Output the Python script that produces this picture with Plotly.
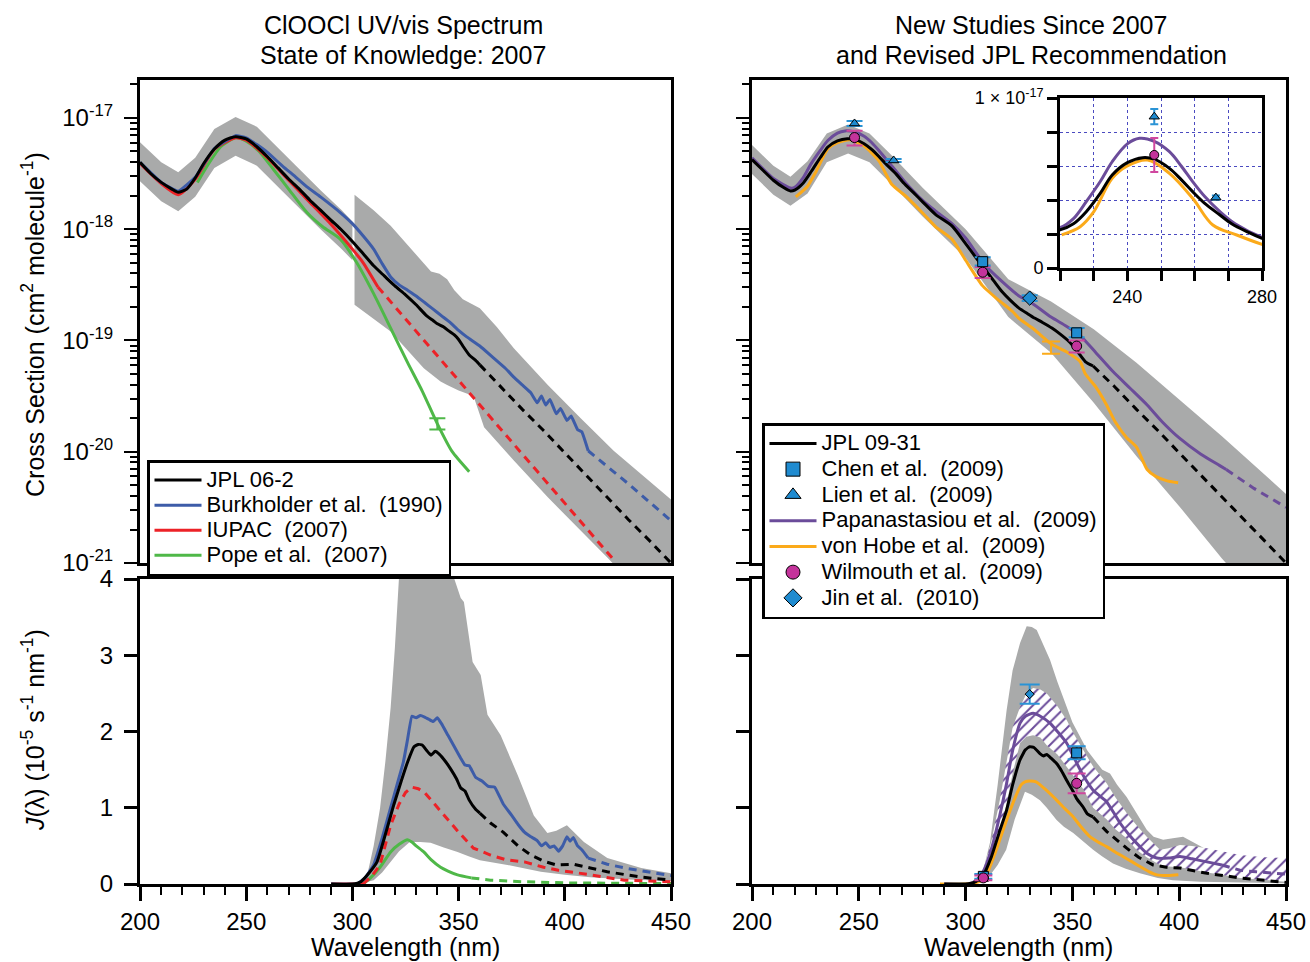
import plotly.graph_objects as go

W, H = 1310, 962
FONT = "Liberation Sans, Arial, Helvetica, sans-serif"

# ---------------- colours ----------------
GRAY = "#a9aaaa"
BLACK = "#000000"
BLUE = "#3d5ca8"
RED = "#ec2227"
GREEN = "#4fb848"
PURPLE = "#6b4c9a"
ORANGE = "#fbaa1a"
MBLUE = "#1f8bd0"
EBLUE = "#2a93d5"
MAG = "#c4339b"
EMAG = "#d0479f"
GRID = "#4a4ac0"

# ================= DATA =================
# ---- Top-left: cross sections (cm2 molecule-1), 2007 knowledge ----
jpl06_wl = [200, 205, 210, 215, 218, 222, 226, 230, 235, 240, 245, 250, 255, 260, 265, 270, 275, 280, 285, 290,
            295, 300, 305, 310, 315, 320, 325, 330, 335, 338, 340, 343, 345, 348, 350, 352, 355, 358, 360]
jpl06_xs = [3.98e-18, 3.16e-18, 2.63e-18, 2.29e-18, 2.14e-18, 2.29e-18, 2.88e-18, 3.89e-18, 5.25e-18, 6.31e-18,
            6.76e-18, 6.46e-18, 5.50e-18, 4.47e-18, 3.55e-18, 2.82e-18, 2.29e-18, 1.82e-18, 1.48e-18, 1.20e-18,
            9.77e-19, 7.76e-19, 6.03e-19, 4.68e-19, 3.80e-19, 3.09e-19, 2.57e-19, 2.09e-19, 1.66e-19, 1.51e-19,
            1.41e-19, 1.32e-19, 1.23e-19, 1.12e-19, 1.02e-19, 8.91e-20, 7.41e-20, 6.61e-20, 6.03e-20]
jpl_ext_wl = [360, 370, 380, 390, 400, 410, 420, 430, 440, 450]
jpl06_ext_xs = [6.03e-20, 3.80e-20, 2.40e-20, 1.55e-20, 9.77e-21, 6.17e-21, 3.89e-21, 2.45e-21, 1.58e-21, 1.0e-21]

burk_wl = [200, 210, 218, 226, 235, 245, 250, 255, 260, 267.5, 272, 278.6, 285, 294.3, 300, 305, 310, 314, 318, 322,
           326, 330, 334, 338, 342, 346, 350, 354, 360, 366, 372, 376, 380, 384, 387, 389, 391, 393, 396, 398, 401,
           403, 406, 408, 411]
burk_xs = [3.98e-18, 2.63e-18, 2.19e-18, 2.92e-18, 5.30e-18, 6.92e-18, 6.61e-18, 5.75e-18, 4.90e-18, 3.63e-18,
           3.09e-18, 2.40e-18, 1.95e-18, 1.41e-18, 1.12e-18, 8.71e-19, 6.61e-19, 4.90e-19, 3.72e-19, 3.16e-19,
           2.82e-19, 2.51e-19, 2.19e-19, 1.91e-19, 1.66e-19, 1.45e-19, 1.23e-19, 1.07e-19, 8.91e-20, 7.08e-20,
           5.62e-20, 4.68e-20, 3.98e-20, 3.39e-20, 2.75e-20, 3.16e-20, 2.63e-20, 2.95e-20, 2.19e-20, 2.45e-20,
           1.91e-20, 2.09e-20, 1.58e-20, 1.51e-20, 1.02e-20]
burk_ext_wl = [411, 430, 450]
burk_ext_xs = [1.02e-20, 5.13e-21, 2.40e-21]

iupac_wl = [200, 210, 218, 226, 235, 245, 250, 260, 270, 280, 290, 300, 305, 312]
iupac_xs = [3.90e-18, 2.57e-18, 2.04e-18, 2.80e-18, 5.20e-18, 6.61e-18, 6.31e-18, 4.37e-18, 2.75e-18, 1.74e-18,
            1.10e-18, 6.61e-19, 5.01e-19, 3.02e-19]
iupac_ext_wl = [312, 340, 370, 400, 423]
iupac_ext_xs = [3.02e-19, 7.24e-20, 1.58e-20, 3.39e-21, 1.07e-21]

pope_wl = [227, 232, 238, 245, 250, 256, 262.7, 270, 278.6, 286, 294.3, 302, 310, 318, 326, 333, 340, 347, 355]
pope_xs = [2.63e-18, 3.80e-18, 5.50e-18, 6.61e-18, 6.17e-18, 5.01e-18, 3.47e-18, 2.29e-18, 1.41e-18, 1.05e-18,
           8.13e-19, 5.01e-19, 2.63e-19, 1.29e-19, 6.31e-20, 3.47e-20, 1.78e-20, 1.0e-20, 6.61e-21]
pope_err_wl = [340]
pope_err_xs = [1.78e-20]
pope_err_plus = [0.22e-20]
pope_err_minus = [0.20e-20]

# uncertainty band 2007 (two pieces)
band07a_wl = [200, 210, 218, 226, 235, 245, 255, 265, 275, 285, 295, 300]
band07a_up = [6.03e-18, 3.98e-18, 3.24e-18, 4.37e-18, 7.94e-18, 1.02e-17, 8.32e-18, 5.37e-18, 3.47e-18, 2.24e-18,
              1.48e-18, 1.17e-18]
band07a_lo = [2.69e-18, 1.78e-18, 1.45e-18, 1.95e-18, 3.55e-18, 4.57e-18, 3.72e-18, 2.40e-18, 1.55e-18, 1.0e-18,
              6.61e-19, 5.25e-19]
band07b_up_wl = [301, 310, 318, 328, 337, 341, 344.6, 348, 352, 360, 368, 376, 392, 407.5, 423, 450]
band07b_up = [2.04e-18, 1.48e-18, 1.07e-18, 6.46e-19, 4.17e-19, 3.98e-19, 3.55e-19, 2.82e-19, 2.34e-19, 1.95e-19,
              1.32e-19, 8.51e-20, 3.98e-20, 2.0e-20, 1.02e-20, 3.72e-21]
band07b_lo_wl = [301, 318, 333.6, 341.5, 344.6, 350, 357, 362, 376, 392, 407.5, 420, 450]
band07b_lo = [2.09e-19, 1.20e-19, 5.62e-20, 4.27e-20, 3.98e-20, 3.55e-20, 3.16e-20, 1.66e-20, 8.32e-21, 3.89e-21,
              1.95e-21, 1.12e-21, 2.82e-22]

# ---- Bottom-left: J (1e-5 s-1 nm-1) ----
jpl06_j_wl = [290, 300, 304, 308, 311.6, 315, 319.5, 323, 326, 329, 331, 333, 335, 337, 339, 341, 344, 346, 349, 351,
              353, 355, 358, 360]
jpl06_j = [0, 0, 0.03, 0.15, 0.29, 0.6, 1.04, 1.35, 1.6, 1.8, 1.83, 1.82, 1.75, 1.69, 1.74, 1.70, 1.60, 1.52, 1.38,
           1.26, 1.22, 1.10, 0.98, 0.93]
jpl06_j_ext_wl = [360, 365, 371, 378, 384, 390, 396, 404, 412, 420, 436, 450]
jpl06_j_ext = [0.93, 0.80, 0.68, 0.50, 0.38, 0.30, 0.25, 0.26, 0.21, 0.16, 0.09, 0.05]

burk_j_wl = [290, 302, 306, 310, 314, 318, 321, 324, 326, 328, 330, 332, 334, 336, 338, 340, 342, 345, 348, 351, 353,
             355, 358, 361, 364, 367, 371, 375, 378, 381, 384, 387, 389, 391, 393, 395, 397, 399, 401, 402.5, 404, 406,
             408, 411]
burk_j = [0, 0, 0.08, 0.25, 0.6, 1.0, 1.3, 1.6, 1.9, 2.2, 2.18, 2.21, 2.19, 2.16, 2.13, 2.18, 2.10, 1.95, 1.80, 1.65,
          1.56, 1.55, 1.40, 1.35, 1.28, 1.27, 1.05, 0.90, 0.78, 0.68, 0.62, 0.57, 0.50, 0.54, 0.48, 0.50, 0.43, 0.50,
          0.62, 0.56, 0.61, 0.50, 0.45, 0.34]
burk_j_ext_wl = [411, 420, 430, 440, 450]
burk_j_ext = [0.34, 0.26, 0.20, 0.15, 0.11]

iupac_j_wl = [290, 305]
iupac_j = [0, 0]
iupac_j_ext_wl = [305, 309, 313, 318, 322, 325, 328, 331, 334, 337, 340, 345, 350, 357, 365, 372, 381, 390, 397, 405,
                  412, 420, 428, 440, 450]
iupac_j_ext = [0.0, 0.1, 0.25, 0.77, 1.05, 1.2, 1.27, 1.25, 1.20, 1.10, 1.0, 0.84, 0.68, 0.47, 0.38, 0.32, 0.29, 0.22,
               0.18, 0.15, 0.12, 0.09, 0.05, 0.04, 0.03]

pope_j_wl = [305, 308.5, 313, 318, 322, 326, 328, 330, 333.6, 337, 341.5, 345, 349.5, 356]
pope_j = [0, 0.08, 0.22, 0.42, 0.52, 0.58, 0.55, 0.50, 0.42, 0.32, 0.22, 0.17, 0.12, 0.08]
pope_j_ext_wl = [356, 365, 380, 400, 425, 450]
pope_j_ext = [0.08, 0.05, 0.03, 0.015, 0.01, 0.005]

band07_j_up_wl = [303, 305, 307, 310, 313, 315.5, 318, 320, 322, 325, 330, 340, 345, 348, 351, 352.5, 356.6, 360.4,
                  363.6, 369.8, 377.8, 385.4, 391.8, 396, 401, 409, 420, 436, 450]
band07_j_up = [0, 0.02, 0.12, 0.5, 0.99, 1.6, 2.31, 3.1, 4.05, 4.8, 5.5, 5.2, 4.4, 4.0, 3.75, 3.70, 2.91, 2.74, 2.22,
               1.95, 1.43, 0.90, 0.67, 0.70, 0.77, 0.55, 0.34, 0.21, 0.14]
band07_j_lo_wl = [303, 310, 314, 318, 322, 327, 332, 336.8, 343, 349.5, 355, 360, 373, 388.7, 400, 412, 430, 450]
band07_j_lo = [0, 0.05, 0.15, 0.29, 0.43, 0.55, 0.55, 0.54, 0.48, 0.42, 0.36, 0.31, 0.25, 0.16, 0.12, 0.09, 0.06,
               0.04]

# ---- Top-right: new studies ----
jpl09_wl = [200, 205, 210, 215, 218, 220, 224, 227.8, 232, 235.5, 240, 244.6, 248, 252.5, 256, 259.4, 263, 267.5, 271,
            275.5, 280, 286, 293.6, 300, 305, 309, 313, 317, 321, 325, 329, 332.5, 336, 340.4, 344, 348.4, 352, 356,
            359.7]
jpl09_xs = [4.22e-18, 3.4e-18, 2.75e-18, 2.35e-18, 2.2e-18, 2.24e-18, 2.6e-18, 3.31e-18, 4.4e-18, 5.47e-18, 6.2e-18,
            6.49e-18, 6.4e-18, 5.86e-18, 5.2e-18, 4.49e-18, 3.8e-18, 3.12e-18, 2.6e-18, 2.14e-18, 1.75e-18, 1.35e-18,
            1.07e-18, 7.41e-19, 5.50e-19, 4.37e-19, 3.47e-19, 2.75e-19, 2.29e-19, 1.95e-19, 1.74e-19, 1.58e-19,
            1.45e-19, 1.29e-19, 1.15e-19, 9.77e-20, 8.13e-20, 6.46e-20, 5.89e-20]
jpl09_ext_wl = [359.7, 370, 380, 390, 400, 410, 420, 430, 440, 450]
jpl09_ext_xs = [5.89e-20, 3.80e-20, 2.40e-20, 1.55e-20, 9.77e-21, 6.17e-21, 3.89e-21, 2.45e-21, 1.58e-21, 1.0e-21]

pap_wl = [200, 210, 218, 220, 224, 227.8, 232, 235.5, 240, 243.6, 248, 252.5, 256, 259.4, 263, 267.5, 272, 280, 286,
          293.6, 300, 309, 317, 325, 330, 340, 347, 353.5, 361, 369, 377, 385, 392, 400, 410, 419, 422]
pap_xs = [4.37e-18, 2.85e-18, 2.34e-18, 2.37e-18, 2.9e-18, 3.9e-18, 5.1e-18, 6.25e-18, 7.3e-18, 7.63e-18, 7.45e-18,
          6.84e-18, 6.0e-18, 5.08e-18, 4.2e-18, 3.31e-18, 2.6e-18, 1.8e-18, 1.45e-18, 1.12e-18, 8.32e-19, 4.79e-19,
          3.39e-19, 2.51e-19, 2.24e-19, 1.62e-19, 1.35e-19, 1.11e-19, 7.76e-20, 5.25e-20, 3.72e-20, 2.63e-20,
          1.86e-20, 1.33e-20, 9.55e-21, 7.50e-21, 6.92e-21]
pap_ext_wl = [422, 435, 450]
pap_ext_xs = [6.92e-21, 4.68e-21, 3.16e-21]

vh_wl = [220.5, 226, 230, 235.5, 240, 246, 252.5, 259.4, 265.4, 272.5, 280, 286, 293.6, 300, 308, 315, 322, 325, 332,
         340, 347, 353.6, 356, 361, 366, 370, 375.5, 380, 385, 389, 394, 399.5]
vh_xs = [1.95e-18, 2.43e-18, 3.3e-18, 5.27e-18, 6.0e-18, 6.35e-18, 5.57e-18, 4.10e-18, 2.53e-18, 1.94e-18, 1.39e-18,
         1.05e-18, 8.13e-19, 5.25e-19, 3.09e-19, 2.34e-19, 1.82e-19, 1.58e-19, 1.26e-19, 9.33e-20, 7.94e-20, 6.46e-20,
         5.01e-20, 3.80e-20, 2.63e-20, 1.86e-20, 1.33e-20, 1.10e-20, 6.92e-21, 6.0e-21, 5.50e-21, 5.25e-21]
vh_err_wl = [340]
vh_err_xs = [8.7e-20]
vh_err = [1.1e-20]

chen_wl = [308, 352]
chen_xs = [5.1e-19, 1.17e-19]
chen_err_plus = [0.5e-19, 0.12e-19]
chen_err_minus = [0.4e-19, 0.10e-19]
lien_wl = [248, 266.3]
lien_xs = [8.9e-18, 4.14e-18]
lien_err = [0.45e-18, 0.12e-18]
wilm_wl = [248, 308, 352]
wilm_xs = [6.65e-18, 4.1e-19, 8.9e-20]
wilm_err = [1.0e-18, 0.47e-19, 1.1e-20]
jin_wl = [330]
jin_xs = [2.4e-19]
jin_err = [0.14e-19]

band09_wl = [200, 210, 218, 226, 235, 245, 255, 265, 280, 300, 320, 340, 360, 380, 400, 420, 450]
band09_up = [5.69e-18, 3.72e-18, 2.95e-18, 4.07e-18, 7.24e-18, 8.71e-18, 7.24e-18, 4.68e-18, 2.34e-18, 1.0e-18,
             3.55e-19, 2.24e-19, 1.26e-19, 6.31e-20, 2.95e-20, 1.38e-20, 4.17e-21]
band09_lo = [3.13e-18, 2.04e-18, 1.62e-18, 2.09e-18, 3.98e-18, 4.79e-18, 3.98e-18, 2.57e-18, 1.29e-18, 5.50e-19,
             1.62e-19, 7.76e-20, 2.75e-20, 9.12e-21, 3.24e-21, 1.10e-21, 2.40e-22]

# ---- Bottom-right: J (1e-5 s-1 nm-1) ----
jpl09_j_wl = [290, 300, 304, 308, 312, 316, 319.2, 322, 325.5, 328, 330, 332, 334.8, 336.5, 338, 340, 342.6, 345,
              347.3, 350.4, 352, 355, 357, 359.7]
jpl09_j = [0, 0, 0.02, 0.1, 0.35, 0.7, 0.97, 1.3, 1.63, 1.76, 1.80, 1.79, 1.71, 1.68, 1.70, 1.65, 1.58, 1.48, 1.36,
           1.21, 1.12, 1.01, 0.92, 0.88]
jpl09_j_ext_wl = [359.7, 366, 375.4, 381, 387.8, 394, 400.4, 413, 428.5, 440, 450]
jpl09_j_ext = [0.88, 0.69, 0.47, 0.35, 0.25, 0.22, 0.21, 0.14, 0.08, 0.05, 0.02]

pap_j_wl = [290, 302, 305, 308, 312, 316, 319.2, 322, 325.5, 328, 331.6, 335, 339.5, 343, 347.3, 350, 353.6, 356,
            359.7, 363, 366, 369, 372.3, 377, 381.6, 385, 389.5, 395, 400.4, 406, 413, 420]
pap_j = [0, 0, 0.05, 0.15, 0.45, 0.9, 1.32, 1.75, 2.11, 2.2, 2.24, 2.2, 2.11, 2.0, 1.85, 1.7, 1.5, 1.38, 1.23, 1.15,
         1.08, 0.95, 0.80, 0.63, 0.49, 0.40, 0.34, 0.34, 0.36, 0.33, 0.29, 0.25]
pap_j_ext_wl = [420, 428.5, 436, 444, 450]
pap_j_ext = [0.25, 0.18, 0.16, 0.14, 0.13]

vh_j_wl = [288, 300, 305, 308, 311, 315, 319.2, 323, 326, 327.8, 330, 333, 337, 342.6, 346, 350.4, 354, 358.2, 362,
           366, 370, 373.7, 378, 381.6, 386, 389.5, 395, 399.6]
vh_j = [0, 0, 0.02, 0.05, 0.2, 0.5, 0.84, 1.12, 1.30, 1.34, 1.35, 1.34, 1.25, 1.10, 1.0, 0.88, 0.75, 0.62, 0.55,
        0.49, 0.42, 0.36, 0.29, 0.23, 0.16, 0.12, 0.11, 0.12]

chen_j_wl = [308.3, 352]
chen_j = [0.10, 1.72]
chen_j_err = [0.03, 0.085]
wilm_j_wl = [308.3, 352]
wilm_j = [0.08, 1.32]
wilm_j_err = [0.03, 0.13]
jin_j_wl = [330]
jin_j = [2.49]
jin_j_err = [0.125]

band09_j_up_wl = [300, 305, 308, 311.4, 315, 319.2, 322, 325.5, 328.6, 331, 333.3, 336, 339.5, 343, 347.3, 350, 353.6,
                  357, 361.4, 364, 367.6, 371, 375.4, 380, 384.8, 388, 392.5, 397, 401.8, 407, 413, 420, 428.5, 440,
                  450]
band09_j_up = [0, 0.05, 0.15, 0.54, 1.3, 2.28, 2.8, 3.16, 3.38, 3.37, 3.33, 3.15, 2.94, 2.65, 2.32, 2.12, 1.93, 1.75,
               1.59, 1.50, 1.45, 1.30, 1.14, 0.93, 0.71, 0.62, 0.58, 0.60, 0.62, 0.54, 0.45, 0.36, 0.27, 0.18, 0.12]
band09_j_lo_wl = [300, 308, 311, 315, 319, 323, 327.8, 331, 334.8, 338, 342.6, 346, 350.4, 355, 359.7, 364, 369, 375,
                  381.6, 390, 397, 410, 430, 450]
band09_j_lo = [0, 0.04, 0.1, 0.25, 0.45, 0.85, 1.21, 1.17, 1.10, 1.0, 0.84, 0.75, 0.67, 0.56, 0.45, 0.36, 0.27, 0.2,
               0.14, 0.08, 0.05, 0.03, 0.02, 0.01]

hatch_wl = [308, 312, 316, 319.2, 322, 325.5, 328.5, 331.6, 335, 338, 343, 347.3, 351, 355, 359.7, 366, 370, 375.4,
            380, 384.8, 391, 395, 400.4, 406, 413, 420, 428.5, 440, 450]
hatch_up = [0.15, 0.55, 1.1, 1.6, 2.05, 2.32, 2.5, 2.57, 2.55, 2.5, 2.33, 2.15, 1.95, 1.76, 1.54, 1.32, 1.14, 0.93,
            0.77, 0.62, 0.45, 0.47, 0.51, 0.50, 0.47, 0.43, 0.38, 0.35, 0.34]
hatch_lo = [0.1, 0.35, 0.7, 1.05, 1.45, 1.85, 1.93, 1.95, 1.92, 1.82, 1.7, 1.55, 1.4, 1.25, 1.0, 0.85, 0.72, 0.6,
            0.45, 0.35, 0.25, 0.23, 0.22, 0.19, 0.15, 0.12, 0.08, 0.05, 0.03]

# axis ticks
log_major = [1e-21, 1e-20, 1e-19, 1e-18, 1e-17]
log_major_text = ["10<sup>-21</sup>", "10<sup>-20</sup>", "10<sup>-19</sup>", "10<sup>-18</sup>", "10<sup>-17</sup>"]
log_minor = [k * 10.0 ** e for e in range(-21, -16) for k in range(2, 10)]
inset_x_major = [240, 280]
inset_x_major_text = ["240", "280"]
inset_x_minor = [220, 230, 250, 260, 270]
inset_y_major = [0, 1e-17]
inset_y_major_text = ["0", "1 \u00d7 10<sup>-17</sup>"]
inset_y_minor = [2e-18, 4e-18, 6e-18, 8e-18]

# legend labels
leg1_names = ["JPL 06-2", "Burkholder et al.\u00a0 (1990)", "IUPAC\u00a0 (2007)", "Pope et al.\u00a0 (2007)"]
leg2_names = ["JPL 09-31", "Chen et al.\u00a0 (2009)", "Lien et al.\u00a0 (2009)", "Papanastasiou et al.\u00a0 (2009)",
              "von Hobe et al.\u00a0 (2009)", "Wilmouth et al.\u00a0 (2009)", "Jin et al.\u00a0 (2010)"]


def big(t):
    return '<span style="font-size:22px">' + t + '</span>'


# ================= FIGURE =================
fig = go.Figure()


def band(wl_up, up, wl_lo, lo, xa, ya, color=GRAY, pattern=None):
    kw = dict(fillcolor=color)
    if pattern is not None:
        kw = dict(fillcolor="white", fillpattern=pattern)
    fig.add_trace(go.Scatter(x=list(wl_up) + list(wl_lo)[::-1], y=list(up) + list(lo)[::-1], xaxis=xa, yaxis=ya,
                             mode="lines", fill="toself", line=dict(width=0, color=color), hoverinfo="skip",
                             showlegend=False, **kw))


def line(x, y, xa, ya, color, dash=None, name=None, legend=None, rank=None, width=3, smooth=0.6):
    ld = dict(color=color, width=width)
    if dash:
        ld["dash"] = dash
    elif smooth:
        ld["shape"] = "spline"
        ld["smoothing"] = smooth
    if name:
        kw = dict(name=big(name), showlegend=True, legend=legend, legendrank=rank)
    else:
        kw = dict(showlegend=False)
    fig.add_trace(go.Scatter(x=x, y=y, xaxis=xa, yaxis=ya, mode="lines", line=ld, hoverinfo="skip", **kw))


def points(x, y, xa, ya, symbol, fill, ecolor, ep, em=None, size=10, cap=7):
    fig.add_trace(go.Scatter(
        x=x, y=y, xaxis=xa, yaxis=ya, mode="markers", showlegend=False, hoverinfo="skip",
        marker=dict(symbol=symbol, size=size, color=fill, line=dict(color="black", width=1)),
        error_y=dict(type="data", symmetric=em is None, array=ep, arrayminus=em, color=ecolor, thickness=2,
                     width=cap)))


DASH = "8px,6px"

# ---- top-left ----
band(band07a_wl, band07a_up, band07a_wl, band07a_lo, "x", "y")
band(band07b_up_wl, band07b_up, band07b_lo_wl, band07b_lo, "x", "y")
line(pope_wl, pope_xs, "x", "y", GREEN, name=leg1_names[3], legend="legend", rank=4)
line(iupac_wl, iupac_xs, "x", "y", RED, name=leg1_names[2], legend="legend", rank=3)
line(iupac_ext_wl, iupac_ext_xs, "x", "y", RED, dash=DASH)
line(burk_wl, burk_xs, "x", "y", BLUE, name=leg1_names[1], legend="legend", rank=2, smooth=0.3)
line(burk_ext_wl, burk_ext_xs, "x", "y", BLUE, dash=DASH)
line(jpl06_wl, jpl06_xs, "x", "y", BLACK, name=leg1_names[0], legend="legend", rank=1)
line(jpl_ext_wl, jpl06_ext_xs, "x", "y", BLACK, dash=DASH)
fig.add_trace(go.Scatter(x=pope_err_wl, y=pope_err_xs, xaxis="x", yaxis="y", mode="markers", showlegend=False,
                         marker=dict(size=1, color=GREEN), hoverinfo="skip",
                         error_y=dict(type="data", symmetric=False, array=pope_err_plus, arrayminus=pope_err_minus,
                                      color=GREEN, thickness=2, width=8)))

# ---- bottom-left ----
band(band07_j_up_wl, band07_j_up, band07_j_lo_wl, band07_j_lo, "x2", "y2")
line(pope_j_wl, pope_j, "x2", "y2", GREEN)
line(pope_j_ext_wl, pope_j_ext, "x2", "y2", GREEN, dash=DASH)
line(iupac_j_wl, iupac_j, "x2", "y2", RED)
line(iupac_j_ext_wl, iupac_j_ext, "x2", "y2", RED, dash=DASH)
line(burk_j_wl, burk_j, "x2", "y2", BLUE, smooth=0.3)
line(burk_j_ext_wl, burk_j_ext, "x2", "y2", BLUE, dash=DASH)
line(jpl06_j_wl, jpl06_j, "x2", "y2", BLACK, smooth=0.4)
line(jpl06_j_ext_wl, jpl06_j_ext, "x2", "y2", BLACK, dash=DASH)

# ---- top-right ----
band(band09_wl, band09_up, band09_wl, band09_lo, "x3", "y3")
line(vh_wl, vh_xs, "x3", "y3", ORANGE)
line(pap_wl, pap_xs, "x3", "y3", PURPLE)
line(pap_ext_wl, pap_ext_xs, "x3", "y3", PURPLE, dash=DASH)
line(jpl09_wl, jpl09_xs, "x3", "y3", BLACK)
line(jpl09_ext_wl, jpl09_ext_xs, "x3", "y3", BLACK, dash=DASH)
fig.add_trace(go.Scatter(x=vh_err_wl, y=vh_err_xs, xaxis="x3", yaxis="y3", mode="markers", showlegend=False,
                         marker=dict(size=1, color=ORANGE), hoverinfo="skip",
                         error_y=dict(type="data", array=vh_err, color=ORANGE, thickness=2, width=9)))
points(lien_wl, lien_xs, "x3", "y3", "triangle-up", MBLUE, EBLUE, lien_err, size=9, cap=8)
points(wilm_wl, wilm_xs, "x3", "y3", "circle", MAG, EMAG, wilm_err, size=10, cap=8)
points(chen_wl, chen_xs, "x3", "y3", "square", MBLUE, EBLUE, chen_err_plus, chen_err_minus, size=10, cap=8)
points(jin_wl, jin_xs, "x3", "y3", "diamond", MBLUE, EBLUE, jin_err, size=11, cap=8)

# ---- bottom-right ----
band(band09_j_up_wl, band09_j_up, band09_j_lo_wl, band09_j_lo, "x4", "y4")
band(hatch_wl, hatch_up, hatch_wl, hatch_lo, "x4", "y4", color=PURPLE,
     pattern=dict(shape="/", fgcolor=PURPLE, bgcolor="white", size=8, solidity=0.25))
line(vh_j_wl, vh_j, "x4", "y4", ORANGE)
line(pap_j_wl, pap_j, "x4", "y4", PURPLE)
line(pap_j_ext_wl, pap_j_ext, "x4", "y4", PURPLE, dash=DASH)
line(jpl09_j_wl, jpl09_j, "x4", "y4", BLACK, smooth=0.4)
line(jpl09_j_ext_wl, jpl09_j_ext, "x4", "y4", BLACK, dash=DASH)
points(jin_j_wl, jin_j, "x4", "y4", "diamond", MBLUE, EBLUE, jin_j_err, size=7, cap=10)
points(chen_j_wl, chen_j, "x4", "y4", "square", MBLUE, EBLUE, chen_j_err, size=10, cap=9)
points(wilm_j_wl, wilm_j, "x4", "y4", "circle", MAG, EMAG, wilm_j_err, size=10, cap=9)

# ---- inset ----
line(vh_wl, vh_xs, "x5", "y5", ORANGE, smooth=1.0)
line(pap_wl, pap_xs, "x5", "y5", PURPLE, smooth=1.0)
line(jpl09_wl, jpl09_xs, "x5", "y5", BLACK, smooth=1.0)
points(lien_wl, lien_xs, "x5", "y5", "triangle-up", MBLUE, EBLUE, lien_err, size=9, cap=4)
points(wilm_wl, wilm_xs, "x5", "y5", "circle", MAG, EMAG, wilm_err, size=9, cap=4)

# ---- legend-only entries (right legend) ----
leg2_kind = [("line", BLACK), ("square", MBLUE), ("triangle-up", MBLUE), ("line", PURPLE), ("line", ORANGE),
             ("circle", MAG), ("diamond", MBLUE)]
for i, (nm, (kind, col)) in enumerate(zip(leg2_names, leg2_kind)):
    if kind == "line":
        fig.add_trace(go.Scatter(x=[None], y=[None], xaxis="x3", yaxis="y3", mode="lines", name=big(nm),
                                 line=dict(color=col, width=3), legend="legend2", legendrank=i + 1))
    else:
        fig.add_trace(go.Scatter(x=[None], y=[None], xaxis="x3", yaxis="y3", mode="markers", name=big(nm),
                                 marker=dict(symbol=kind, size=14, color=col, line=dict(color="black", width=1)),
                                 legend="legend2", legendrank=i + 1))


# ================= LAYOUT =================
def px(x):
    return x / W


def py(y):
    return 1 - y / H


def dx(a, b):
    return [px(a), px(b)]


def dy(top, bottom):
    return [py(bottom), py(top)]


tickfont = dict(size=24, color="black", family=FONT)
base = dict(showgrid=False, zeroline=False, showline=True, linecolor="black", linewidth=3, mirror=True,
            tickfont=tickfont, tickcolor="black", automargin=False)

xtop = dict(base, range=[200, 450], showticklabels=False, ticks="")
xbot = dict(base, range=[200, 450], tick0=200, dtick=50, ticks="outside", ticklen=14, tickwidth=2.5,
            minor=dict(dtick=10, ticks="outside", ticklen=8, tickwidth=2, tickcolor="black"))
ylog = dict(base, type="log", range=[-21, -16.66], tickmode="array", tickvals=log_major, ticktext=log_major_text,
            ticks="outside", ticklen=13, tickwidth=2, ticklabelstandoff=6,
            minor=dict(tickmode="array", tickvals=log_minor, ticks="outside", ticklen=7, tickwidth=1.5,
                       tickcolor="black"))
ylin = dict(base, range=[0, 4], tick0=0, dtick=1, ticks="outside", ticklen=13, tickwidth=2.5, ticklabelstandoff=6)
inset_common = dict(ticks="outside", ticklen=10, tickwidth=2.5, tickmode="array",
                    tickfont=dict(size=18, color="black", family=FONT), showgrid=True, gridcolor=GRID,
                    griddash="dot", gridwidth=1)

fig.update_layout(
    template="none",
    width=W, height=H, margin=dict(l=0, r=0, t=0, b=0, autoexpand=False),
    paper_bgcolor="white", plot_bgcolor="white",
    font=dict(family=FONT, color="black"),
    xaxis=dict(xtop, domain=dx(140, 671), anchor="y"),
    yaxis=dict(ylog, domain=dy(80, 563), anchor="x"),
    xaxis2=dict(xbot, domain=dx(140, 671), anchor="y2"),
    yaxis2=dict(ylin, domain=dy(579, 884), anchor="x2"),
    xaxis3=dict(xtop, domain=dx(752, 1286), anchor="y3"),
    yaxis3=dict(ylog, domain=dy(80, 563), anchor="x3", showticklabels=False),
    xaxis4=dict(xbot, domain=dx(752, 1286), anchor="y4"),
    yaxis4=dict(ylin, domain=dy(579, 884), anchor="x4", showticklabels=False),
    xaxis5=dict(base, **inset_common, domain=dx(1060, 1262), anchor="y5", range=[220, 280],
                tickvals=inset_x_major, ticktext=inset_x_major_text,
                minor=dict(tickmode="array", tickvals=inset_x_minor, ticks="outside", ticklen=10, tickwidth=2.5,
                           tickcolor="black", showgrid=True, gridcolor=GRID, griddash="dot", gridwidth=1)),
    yaxis5=dict(base, **inset_common, domain=dy(98, 268), anchor="x5", range=[0, 1e-17],
                tickvals=inset_y_major, ticktext=inset_y_major_text,
                minor=dict(tickmode="array", tickvals=inset_y_minor, ticks="outside", ticklen=10, tickwidth=2.5,
                           tickcolor="black", showgrid=True, gridcolor=GRID, griddash="dot", gridwidth=1)),
    legend=dict(x=px(147), y=py(460), xanchor="left", yanchor="top", bgcolor="white", bordercolor="black",
                borderwidth=2.5, font=dict(size=17, family=FONT, color="black"), tracegroupgap=0,
                itemwidth=47),
    legend2=dict(x=px(762), y=py(423), xanchor="left", yanchor="top", bgcolor="white", bordercolor="black",
                 borderwidth=2.5, font=dict(size=17.5, family=FONT, color="black"), tracegroupgap=0,
                 itemwidth=47),
    showlegend=True,
)

ann = [
    ("ClOOCl UV/vis Spectrum", 403, 25, 0),
    ("State of Knowledge: 2007", 403, 55, 0),
    ("New Studies Since 2007", 1031, 25, 0),
    ("and Revised JPL Recommendation", 1031, 55, 0),
    ("Wavelength (nm)", 405, 947, 0),
    ("Wavelength (nm)", 1018, 947, 0),
    ("Cross Section (cm<sup>2</sup> molecule<sup>-1</sup>)", 33, 325, -90),
    ("<i>J</i>(\u03bb) (10<sup>-5</sup> s<sup>-1</sup> nm<sup>-1</sup>)", 33, 730, -90),
]
for txt, x, y, ang in ann:
    fig.add_annotation(text=txt, x=px(x), y=py(y), xref="paper", yref="paper", showarrow=False,
                       xanchor="center", yanchor="middle", textangle=ang,
                       font=dict(size=25, family=FONT, color="black"))

# remove the page's default body margin so the 1310x962 figure fills the window exactly
fig.write_html("out.html", include_plotlyjs=True, config={"displayModeBar": False},
               post_script="document.body.style.margin='0';document.body.style.overflow='hidden';")
